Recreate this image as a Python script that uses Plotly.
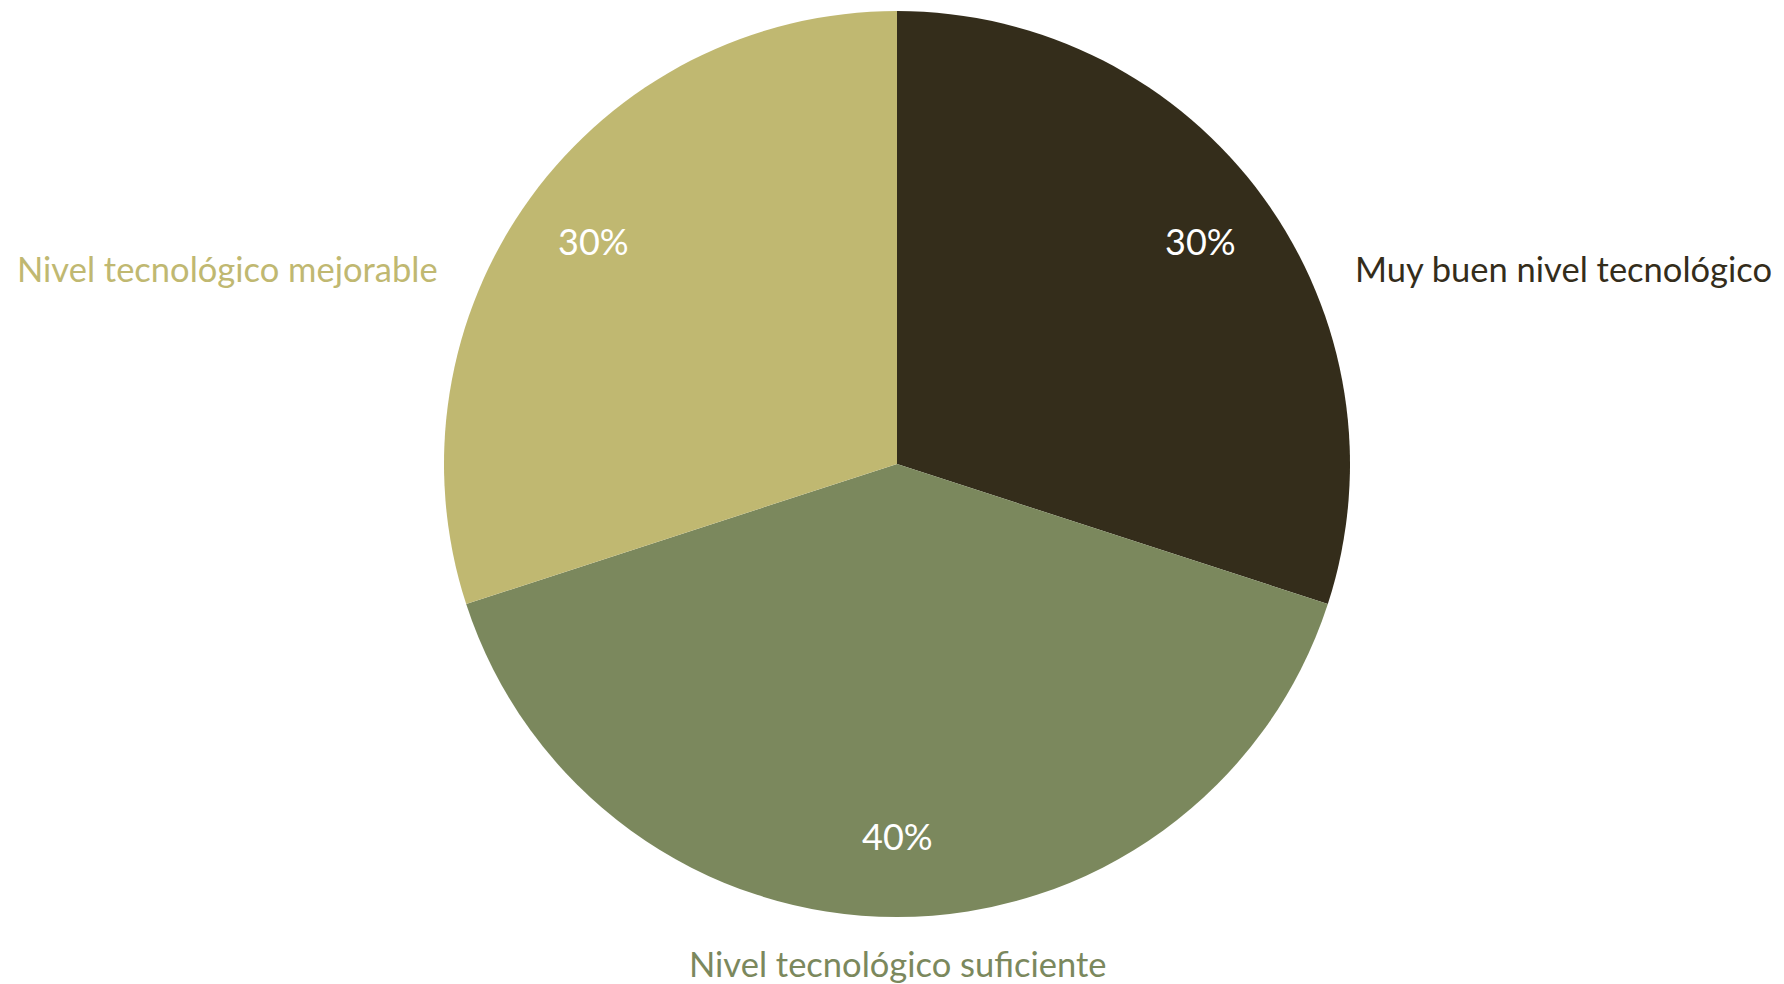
import math
import plotly.graph_objects as go

# Survey categories and their shares (%)
categories = ["Muy buen nivel tecnológico", "Nivel tecnológico suficiente", "Nivel tecnológico mejorable"]
shares = [30, 40, 30]
colors = ["#342D1B", "#7B885D", "#C0B871"]

W, H = 1784, 984
FONT = "Lato"

# Pie placement (paper fractions)
dom_x = [444 / W, 1350 / W]
dom_y = [1 - 917 / H, 1 - 11 / H]

fig = go.Figure(
    go.Pie(
        labels=categories,
        values=shares,
        marker=dict(colors=colors, line=dict(width=0)),
        sort=False,
        direction="clockwise",
        rotation=0,
        textinfo="none",
        hoverinfo="label+percent",
        showlegend=False,
        domain=dict(x=dom_x, y=dom_y),
    )
)

# Percentages placed along each slice's mid-angle
cx = (dom_x[0] + dom_x[1]) / 2 * W
cy = (1 - (dom_y[0] + dom_y[1]) / 2) * H
R = (dom_y[1] - dom_y[0]) * H / 2
total = sum(shares)
cum = 0
annotations = []
for v in shares:
    mid = (cum + v / 2) / total
    cum += v
    ang = math.pi / 2 - 2 * math.pi * mid
    px = cx + 0.828 * R * math.cos(ang)
    py = cy - 0.828 * R * math.sin(ang) - 3
    annotations.append(dict(
        x=px / W, y=1 - py / H, xref="paper", yref="paper",
        text=f"{round(100 * v / total)}%", showarrow=False,
        xanchor="center", yanchor="middle",
        font=dict(family=FONT, size=36, color="white"),
    ))

# Category labels outside the pie
label_pos = [
    (1353, 268, "left"),
    (897, 963, "center"),
    (440, 268, "right"),
]
for name, col, (lx, ly, anchor) in zip(categories, colors, label_pos):
    annotations.append(dict(
        x=lx / W, y=1 - ly / H, xref="paper", yref="paper",
        text=name, showarrow=False,
        xanchor=anchor, yanchor="middle",
        font=dict(family=FONT, size=34.5, color=col),
    ))

fig.update_layout(
    width=W, height=H,
    margin=dict(l=0, r=0, t=0, b=0),
    paper_bgcolor="white", plot_bgcolor="white",
    annotations=annotations,
)

fig.write_html("out.html")
